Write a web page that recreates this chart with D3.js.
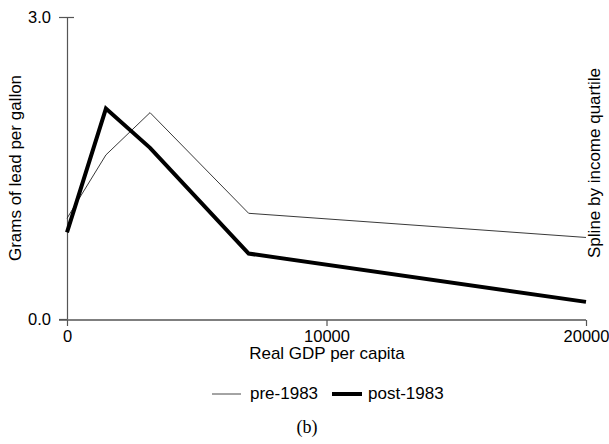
<!DOCTYPE html>
<html><head><meta charset="utf-8">
<script src="https://cdn.jsdelivr.net/npm/d3@7"></script>
<style>body{margin:0;background:#fff}svg{display:block}</style>
</head><body>
<script>
const gdp = [0, 1500, 3200, 7000, 20000];
const pre1983 = [1.00, 1.63, 2.05, 1.05, 0.81];
const post1983 = [0.86, 2.09, 1.70, 0.65, 0.17];
const xTicks = [0, 10000, 20000];
const yTicks = [0.0, 3.0];

const W = 609, H = 444;
const svg = d3.select("body").append("svg").attr("width", W).attr("height", H);
const x = d3.scaleLinear().domain([0, 20000]).range([67, 586]);
const y = d3.scaleLinear().domain([0, 3]).range([319, 17]);
const font = "Liberation Sans, Arial, sans-serif";
const axisCol = "#555";

// y axis
const ya = svg.append("g").attr("transform", "translate(67,0)")
  .call(d3.axisLeft(y).tickValues(yTicks).tickFormat(d3.format(".1f")).tickSize(8).tickSizeOuter(0));
ya.select(".domain").attr("stroke", axisCol).attr("stroke-width", 1.2);
ya.selectAll(".tick line").attr("stroke", axisCol).attr("stroke-width", 1.2);
ya.selectAll(".tick text").attr("font-family", font).attr("font-size", 16.5).attr("fill", "#000").attr("x", -16);
ya.selectAll(".tick").filter(d => d === 3).select("line").attr("x1", 7);

// x axis
const xa = svg.append("g").attr("transform", "translate(0,320)")
  .call(d3.axisBottom(x).tickValues(xTicks).tickFormat(d3.format("d")).tickSize(6).tickSizeOuter(0));
xa.select(".domain").attr("stroke", axisCol).attr("stroke-width", 1.5).attr("d", "M59,0H586");
xa.selectAll(".tick line").attr("stroke", axisCol).attr("stroke-width", 1.2);
xa.selectAll(".tick text").attr("font-family", font).attr("font-size", 16.5).attr("fill", "#000").attr("y", 10);

// labels
svg.append("text").attr("x", 327).attr("y", 359).attr("text-anchor", "middle")
  .attr("font-family", font).attr("font-size", 17).text("Real GDP per capita");
svg.append("text").attr("transform", "translate(21,168) rotate(-90)").attr("text-anchor", "middle")
  .attr("font-family", font).attr("font-size", 17).text("Grams of lead per gallon");
svg.append("text").attr("transform", "translate(600,163) rotate(-90)").attr("text-anchor", "middle")
  .attr("font-family", font).attr("font-size", 17).text("Spline by income quartile");

const line = d3.line().x(d => x(d[0])).y(d => y(d[1]));
svg.append("path").datum(gdp.map((g, i) => [g, pre1983[i]])).attr("d", line)
  .attr("fill", "none").attr("stroke", "#222").attr("stroke-width", 0.9);
svg.append("path").datum(gdp.map((g, i) => [g, post1983[i]])).attr("d", line)
  .attr("fill", "none").attr("stroke", "#000").attr("stroke-width", 4).attr("stroke-linejoin", "miter");

// legend
svg.append("line").attr("x1", 212).attr("x2", 241).attr("y1", 394).attr("y2", 394)
  .attr("stroke", "#333").attr("stroke-width", 0.9);
svg.append("text").attr("x", 250).attr("y", 399).attr("font-family", font).attr("font-size", 17).text("pre-1983");
svg.append("line").attr("x1", 332).attr("x2", 362).attr("y1", 394).attr("y2", 394)
  .attr("stroke", "#000").attr("stroke-width", 4);
svg.append("text").attr("x", 368).attr("y", 399).attr("font-family", font).attr("font-size", 17).text("post-1983");
svg.append("text").attr("x", 307).attr("y", 433).attr("text-anchor", "middle")
  .attr("font-family", "Liberation Serif, Times New Roman, serif").attr("font-size", 18).text("(b)");
</script>
</body></html>
